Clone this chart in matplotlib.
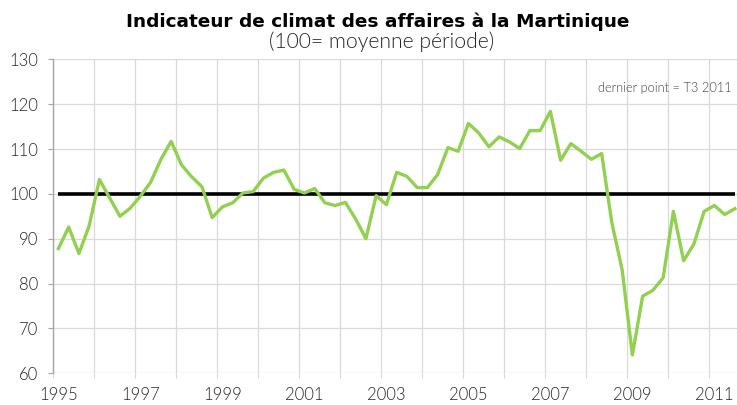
import numpy as np
import matplotlib
matplotlib.use("Agg")
import matplotlib.pyplot as plt

# ---------------------------------------------------------------------------
# Data: quarterly business climate index, 1995 Q1 -> 2011 Q3
# ---------------------------------------------------------------------------
indicateur = [
    87.8, 92.6, 86.7, 92.9,      # 1995
    103.2, 99.1, 95.0, 96.8,     # 1996
    99.5, 102.6, 107.7, 111.7,   # 1997
    106.5, 103.8, 101.6, 94.7,   # 1998
    97.1, 98.0, 100.2, 100.5,    # 1999
    103.5, 104.8, 105.3, 101.0,  # 2000
    100.2, 101.2, 98.0, 97.4,    # 2001
    98.1, 94.4, 90.0, 99.6,      # 2002
    97.6, 104.8, 103.9, 101.4,   # 2003
    101.4, 104.3, 110.3, 109.5,  # 2004
    115.7, 113.6, 110.5, 112.7,  # 2005
    111.6, 110.1, 114.1, 114.1,  # 2006
    118.4, 107.5, 111.2, 109.5,  # 2007
    107.7, 109.0, 93.5, 83.1,    # 2008
    64.1, 77.2, 78.5, 81.3,      # 2009
    96.1, 85.1, 88.8, 96.1,      # 2010
    97.4, 95.4, 96.7,            # 2011
]
moyenne = [100] * len(indicateur)
annees = list(range(1995, 2012, 2))

GREEN = "#92D050"
GRID = "#d9d9d9"
AXIS = "#a6a6a6"
TXT = "#262626"

fig = plt.figure(figsize=(7.37, 4.05), dpi=100)
# axis runs a few pixels past the right border, as in the original
ax = fig.add_axes([53.3 / 737, 31.7 / 405, 686.7 / 737, 314 / 405])

x = np.arange(len(indicateur))
ax.plot(x, moyenne, color="black", linewidth=2.6, solid_capstyle="butt", zorder=3)
ax.plot(x, indicateur, color=GREEN, linewidth=2.4, solid_joinstyle="round", zorder=4)

ax.set_xlim(-0.5, len(indicateur) - 0.5)
ax.set_ylim(60, 130)
ax.set_yticks(range(60, 131, 10))

# year boundaries -> major ticks + grid, label positions -> minor ticks
ax.set_xticks(np.arange(-0.5, len(indicateur), 4))
ax.set_xticklabels([])
ax.set_xticks([(a - 1995) * 4 for a in annees], minor=True)
ax.set_xticklabels([str(a) for a in annees], minor=True)

ax.grid(True, which="major", color=GRID, linewidth=0.9, zorder=0)
ax.set_axisbelow(True)
for s in ["top", "right", "bottom"]:
    ax.spines[s].set_visible(False)
ax.spines["left"].set_color(AXIS)
ax.spines["left"].set_linewidth(1.0)

ax.tick_params(axis="y", which="major", length=3.6, color=AXIS, labelsize=12,
               labelcolor=TXT, pad=7)
ax.tick_params(axis="x", which="major", length=3.6, color=GRID, direction="out")
ax.tick_params(axis="x", which="minor", length=0, labelsize=12, labelcolor=TXT, pad=10)
for lab in ax.get_xticklabels(minor=True) + ax.get_yticklabels():
    lab.set_family("Lato")
    lab.set_fontweight(300)

fig.text(377.5 / 737, 1 - 27 / 405, "Indicateur de climat des affaires à la Martinique",
         ha="center", va="baseline", fontsize=13.3, fontweight="bold", color="black")
fig.text(381.7 / 737, 1 - 48 / 405, "(100= moyenne période)", ha="center", va="baseline",
         fontsize=15.2, color=TXT, family="Lato", fontweight=300)
fig.text(732 / 737, 1 - 88 / 405, "dernier point = T3 2011", ha="right", va="center",
         fontsize=9.3, color="#404040", family="Lato", fontweight=300)

fig.savefig("out.png", dpi=100)
